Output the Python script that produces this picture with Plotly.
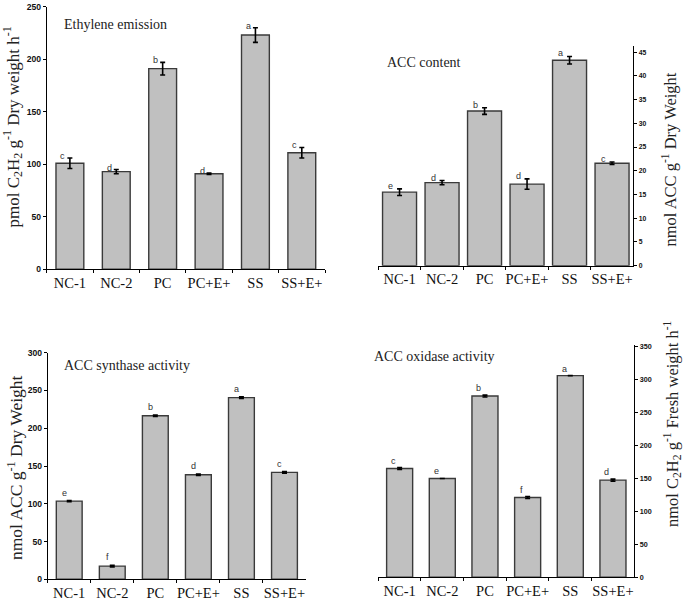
import plotly.graph_objects as go

categories = ["NC-1", "NC-2", "PC", "PC+E+", "SS", "SS+E+"]

ethylene = [101, 93, 191, 91, 223, 111]
ethylene_err = [5, 2, 6, 0.6, 7, 5]
ethylene_letters = ["c", "d", "b", "d", "a", "c"]

acc_content = [15.5, 17.5, 32.6, 17.2, 43.3, 21.6]
acc_content_err = [0.7, 0.45, 0.7, 1.1, 0.8, 0.25]
acc_content_letters = ["e", "d", "b", "d", "a", "c"]

acs = [103.5, 17.5, 216.5, 138.5, 240.5, 141.5]
acs_err = [0.8, 1.0, 0.8, 1.0, 1.0, 1.0]
acs_letters = ["e", "f", "b", "d", "a", "c"]

aco = [165, 150, 275, 121, 306, 147.5]
aco_err = [1.5, 0, 1.5, 1.5, 0, 1.5]
aco_letters = ["c", "e", "b", "f", "a", "d"]

W, H = 685, 602
SERIF = "Liberation Serif"
SANS = "Liberation Sans"


def px_x(p):
    return p / W


def px_y(p):
    return 1 - p / H


panels = [
    dict(vals=ethylene, err=ethylene_err, letters=ethylene_letters,
         xd=(46.7, 325), yd=(269.3, 6.7), yr=[0, 250], dtick=50, side="left",
         bw=0.6, tfs=8.6, lshift=(-7, 2), title="Ethylene emission",
         tpos=(62, 24),
         ytitle="pmol C<sub>2</sub>H<sub>2</sub> g<sup>-1</sup> Dry weight h<sup>-1</sup>",
         ytpos=(13, 127.5), ytfs=17),
    dict(vals=acc_content, err=acc_content_err, letters=acc_content_letters,
         xd=(378.3, 633.3), yd=(265.7, 46), yr=[0, 46.3], dtick=5, side="right",
         bw=0.8, tfs=6.8, lshift=(-9, 3), title="ACC content",
         tpos=(385, 62),
         ytitle="nmol ACC g<sup>-1</sup> Dry Weight",
         ytpos=(670, 159.5), ytfs=16.5),
    dict(vals=acs, err=acs_err, letters=acs_letters,
         xd=(47.7, 306), yd=(579.3, 352.7), yr=[0, 300], dtick=50, side="left",
         bw=0.6, tfs=8.6, lshift=(-5, 8), title="ACC synthase activity",
         tpos=(62, 365.7),
         ytitle="nmol ACC g<sup>-1</sup> Dry Weight",
         ytpos=(15, 468), ytfs=17.5),
    dict(vals=aco, err=aco_err, letters=aco_letters,
         xd=(378.3, 634.3), yd=(577.3, 345), yr=[0, 352.5], dtick=50, side="right",
         bw=0.61, tfs=7.2, lshift=(-6, 7), title="ACC oxidase activity",
         tpos=(372.5, 356),
         ytitle="nmol C<sub>2</sub>H<sub>2</sub> g<sup>-1</sup> Fresh weight h<sup>-1</sup>",
         ytpos=(672, 424), ytfs=16.5),
]

fig = go.Figure()
annotations = []
layout = {}

for i, p in enumerate(panels, start=1):
    xa = "x" if i == 1 else f"x{i}"
    ya = "y" if i == 1 else f"y{i}"
    fig.add_trace(go.Bar(
        x=categories, y=p["vals"], xaxis=xa, yaxis=ya, width=p["bw"],
        marker=dict(color="#c0c0c0", line=dict(color="#3a3a3a", width=1.4)),
        error_y=dict(type="data", array=p["err"], visible=True,
                     color="#000000", thickness=1.6, width=2.5),
        showlegend=False, hoverinfo="skip",
    ))
    for c, v, e, l in zip(categories, p["vals"], p["err"], p["letters"]):
        annotations.append(dict(
            x=c, y=v + e, xref=xa, yref=ya, text=l, showarrow=False,
            xanchor="center", yanchor="middle",
            xshift=p["lshift"][0], yshift=p["lshift"][1],
            font=dict(family=SANS, size=9, color="#333333"),
        ))
    annotations.append(dict(
        x=px_x(p["tpos"][0]), y=px_y(p["tpos"][1]), xref="paper", yref="paper",
        text=p["title"], showarrow=False, xanchor="left", yanchor="middle",
        font=dict(family=SERIF, size=14, color="#222222"),
    ))
    annotations.append(dict(
        x=px_x(p["ytpos"][0]), y=px_y(p["ytpos"][1]), xref="paper", yref="paper",
        text=p["ytitle"], showarrow=False, xanchor="center", yanchor="middle",
        textangle=-90,
        font=dict(family=SERIF, size=p["ytfs"], color="#222222"),
    ))
    xkey = "xaxis" if i == 1 else f"xaxis{i}"
    ykey = "yaxis" if i == 1 else f"yaxis{i}"
    layout[xkey] = dict(
        domain=[px_x(p["xd"][0]), px_x(p["xd"][1])], anchor=ya,
        type="category", range=[-0.5, 5.5], automargin=False,
        showline=True, linecolor="#000000", linewidth=1,
        ticks="outside", ticklen=3, tickcolor="#000000", tickson="boundaries",
        showgrid=False, zeroline=False, tickangle=0,
        tickfont=dict(family=SERIF, size=14.5, color="#111111"),
        fixedrange=True,
    )
    layout[ykey] = dict(
        domain=[px_y(p["yd"][0]), px_y(p["yd"][1])], anchor=xa, side=p["side"],
        range=p["yr"], dtick=p["dtick"], tick0=0, automargin=False,
        showline=True, linecolor="#000000", linewidth=1,
        ticks="outside", ticklen=3, tickcolor="#000000",
        showgrid=False, zeroline=False,
        tickfont=dict(family=SANS, size=p["tfs"], color="#111111", weight="bold"),
        fixedrange=True,
    )

fig.update_layout(
    width=W, height=H, margin=dict(l=0, r=0, t=0, b=0, autoexpand=False),
    paper_bgcolor="white", plot_bgcolor="white",
    bargap=0.4, annotations=annotations, **layout,
)

fig.write_html(
    "out.html",
    config={"displayModeBar": False, "staticPlot": True},
    post_script="document.body.style.margin='0';document.body.style.overflow='hidden';",
)
